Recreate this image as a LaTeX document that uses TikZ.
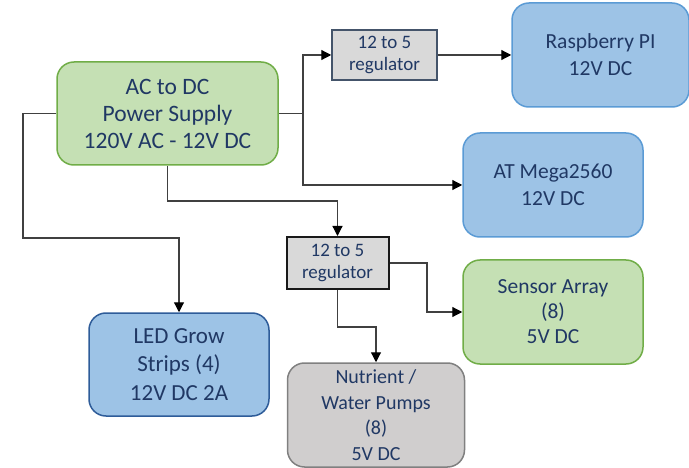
\documentclass[tikz,border=0pt]{standalone}
\usepackage{fontspec}
\setmainfont{Carlito}
\usetikzlibrary{arrows.meta}
\definecolor{txt}{HTML}{203864}
\definecolor{gfill}{HTML}{C5E0B4}
\definecolor{gline}{HTML}{70AD47}
\definecolor{bfill}{HTML}{9DC3E6}
\definecolor{bline}{HTML}{5B9BD5}
\definecolor{bdark}{HTML}{2E5C99}
\definecolor{nfill}{HTML}{D0CECE}
\definecolor{nline}{HTML}{808080}
\definecolor{rfill}{HTML}{D9D9D9}
\definecolor{rline}{HTML}{44546A}
\definecolor{cline}{HTML}{404040}
\tikzset{
  box/.style={rectangle, rounded corners=17pt, line width=1.5pt, align=center,
    inner sep=0pt, text=txt, font=\fontsize{21.5}{26.5}\selectfont},
  greenbox/.style={box, draw=gline, fill=gfill},
  bluebox/.style={box, draw=bline, fill=bfill},
  ledbox/.style={box, draw=bdark, fill=bfill},
  graybox/.style={box, draw=nline, fill=nfill},
  regbox/.style={rectangle, fill=rfill, align=center, inner sep=0pt, text=txt,
    font=\fontsize{19}{22}\selectfont},
  conn/.style={draw=cline, line width=1.2pt, -{Triangle[length=10pt,width=10pt,color=black]}},
  plain/.style={draw=cline, line width=1.2pt}
}
\begin{document}
\begin{tikzpicture}[x=1pt,y=-1pt]
\useasboundingbox (0,0) rectangle (689,468);
\node[greenbox, minimum width=221pt, minimum height=103pt, font=\fontsize{23.5}{27}\selectfont] (psu) at (167.5,113.5)
  {AC to DC\\Power Supply\\120V AC - 12V DC};
\node[regbox, draw=rline, line width=1.5pt, minimum width=105pt, minimum height=50pt] (reg1) at (384.5,55)
  {12 to 5\\regulator};
\node[bluebox, minimum width=177pt, minimum height=104pt, font=\fontsize{21.5}{27}\selectfont] (rpi) at (600.5,55)
  {Raspberry PI\\12V DC};
\node[bluebox, minimum width=180pt, minimum height=104pt, font=\fontsize{21.5}{27}\selectfont] (atm) at (553,185)
  {AT Mega2560\\12V DC};
\node[regbox, draw=black!90, line width=2pt, minimum width=102pt, minimum height=52pt] (reg2) at (337.5,263)
  {12 to 5\\regulator};
\node[greenbox, minimum width=180pt, minimum height=104pt, font=\fontsize{21.5}{25}\selectfont] (sens) at (553,312)
  {Sensor Array\\(8)\\5V DC};
\node[ledbox, minimum width=180pt, minimum height=103pt, font=\fontsize{23}{28.5}\selectfont] (led) at (179,364.5)
  {LED Grow\\Strips (4)\\12V DC 2A};
\node[graybox, minimum width=177pt, minimum height=104pt, font=\fontsize{20}{25.7}\selectfont] (pump) at (376,415)
  {Nutrient /\\Water Pumps\\(8)\\5V DC};

\coordinate (j1) at (303,113.5);
\coordinate (j2) at (167.5,201);
\coordinate (j3) at (23,113.5);
\coordinate (j4) at (23,238);
\coordinate (j5) at (427,263);
\coordinate (j6) at (337.5,327);

\draw[plain] (psu.east) -- (j1);
\draw[conn] (j1) |- (reg1.west);
\draw[conn] (j1) |- (atm.west);
\draw[conn] (reg1.east) -- (rpi.west);
\draw[conn] (psu.south) -- (j2) -| (reg2.north);
\draw[conn] (psu.west) -- (j3) -- (j4) -| (led.north);
\draw[conn] (reg2.east) -- (j5) |- (sens.west);
\draw[conn] (reg2.south) -- (j6) -| (pump.north);
\end{tikzpicture}
\end{document}
